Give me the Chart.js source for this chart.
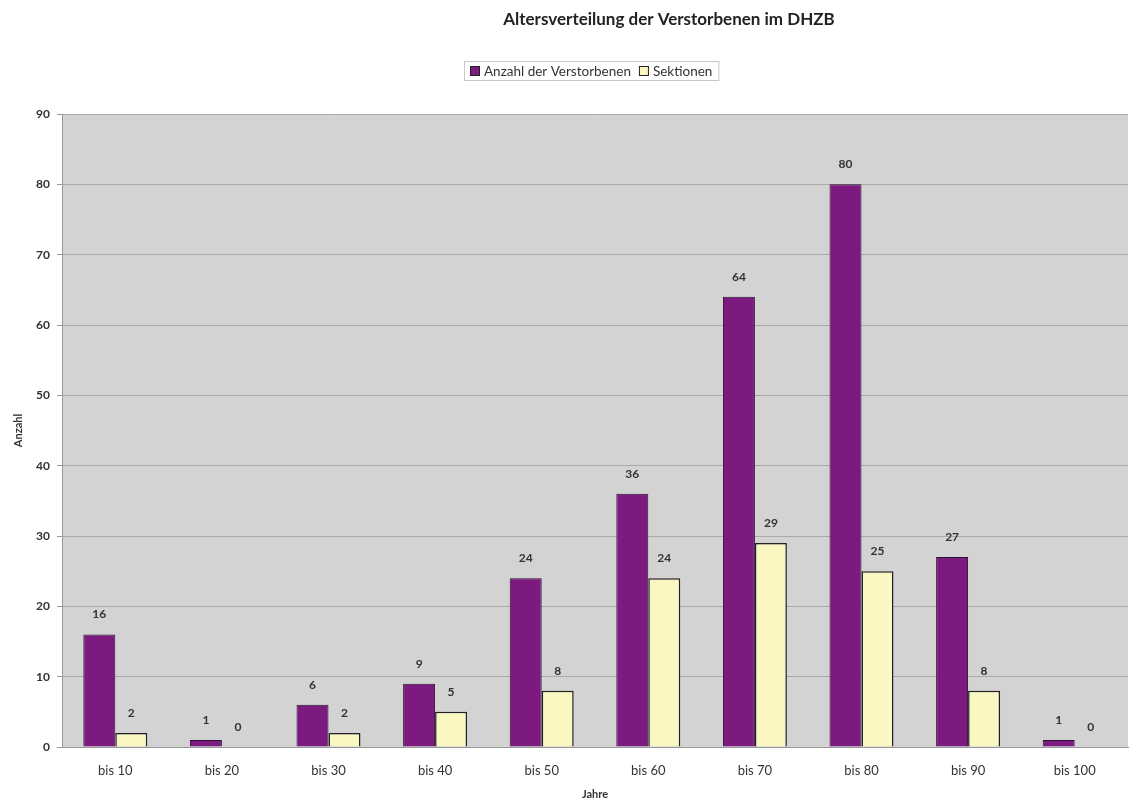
<!DOCTYPE html>
<html>
<head>
<meta charset="utf-8">
<script src="https://cdn.jsdelivr.net/npm/chart.js@4"></script>
<style>
  html, body { margin: 0; padding: 0; background: #fff; }
  #wrap { width: 1134px; height: 805px; position: relative; }
</style>
</head>
<body>
<div id="wrap"><canvas id="ageChart" width="1134" height="805"></canvas></div>
<script>
const labels = ['bis 10', 'bis 20', 'bis 30', 'bis 40', 'bis 50', 'bis 60', 'bis 70', 'bis 80', 'bis 90', 'bis 100'];
const verstorbene = [16, 1, 6, 9, 24, 36, 64, 80, 27, 1];
const sektionen = [2, 0, 2, 5, 8, 24, 29, 25, 8, 0];
const yTicks = [0, 10, 20, 30, 40, 50, 60, 70, 80, 90];

const FONT = 'Lato, "Open Sans", sans-serif';
const TEXT = '#333';

// grey plot area behind the bars
const plotBg = {
  id: 'plotBg',
  beforeDraw(chart) {
    const { ctx, chartArea: a } = chart;
    ctx.save();
    ctx.fillStyle = '#d3d3d3';
    ctx.fillRect(a.left, a.top, a.right - a.left, a.bottom - a.top);
    ctx.restore();
  }
};

// title, legend and the value above every bar
const extras = {
  id: 'extras',
  afterDatasetsDraw(chart) {
    const { ctx } = chart;
    ctx.save();
    ctx.fillStyle = TEXT;
    ctx.textAlign = 'center';
    ctx.textBaseline = 'middle';
    ctx.font = 'bold 12px ' + FONT;
    chart.data.datasets.forEach((ds, i) => {
      chart.getDatasetMeta(i).data.forEach((bar, j) => {
        ctx.fillText(String(ds.data[j]), bar.x, bar.y - 20);
      });
    });

    ctx.font = 'bold 17px ' + FONT;
    ctx.fillStyle = '#222';
    ctx.fillText('Altersverteilung der Verstorbenen im DHZB', 669, 20);

    // legend, centred over the plot
    ctx.font = '13.5px ' + FONT;
    ctx.textAlign = 'left';
    const items = chart.data.datasets;
    const box = 10, gap = 4, sep = 8;
    let total = 0;
    items.forEach((ds, i) => { total += box + gap + ctx.measureText(ds.label).width + (i ? 0 : sep); });
    const lw = total + 12, lh = 19, ly = 61;
    const lx = Math.round(591 - lw / 2);
    ctx.strokeStyle = '#c8c8c8';
    ctx.lineWidth = 1;
    ctx.strokeRect(lx + 0.5, ly + 0.5, lw, lh);
    let x = lx + 6;
    items.forEach(ds => {
      ctx.fillStyle = ds.backgroundColor;
      ctx.fillRect(x, ly + 5, box, box);
      ctx.strokeStyle = '#222';
      ctx.strokeRect(x + 0.5, ly + 5.5, box - 1, box - 1);
      ctx.fillStyle = TEXT;
      ctx.fillText(ds.label, x + box + gap, ly + 10.5);
      x += box + gap + ctx.measureText(ds.label).width + sep;
    });
    ctx.restore();
  }
};

new Chart(document.getElementById('ageChart'), {
  type: 'bar',
  data: {
    labels,
    datasets: [
      {
        label: 'Anzahl der Verstorbenen',
        data: verstorbene,
        backgroundColor: '#7d1a80',
        borderColor: '#2a1030',
        borderWidth: 1
      },
      {
        label: 'Sektionen',
        data: sektionen,
        backgroundColor: '#fbf7c3',
        borderColor: '#222',
        borderWidth: 1.5
      }
    ]
  },
  options: {
    responsive: false,
    animation: false,
    layout: { padding: { top: 114, right: 6, left: 12, bottom: 0 } },
    datasets: { bar: { categoryPercentage: 0.6, barPercentage: 1.0 } },
    plugins: {
      legend: { display: false },
      title: { display: false },
      tooltip: { enabled: false }
    },
    scales: {
      x: {
        grid: { display: false, drawTicks: false },
        border: { color: '#999', width: 1 },
        ticks: { color: TEXT, font: { family: FONT, size: 13 }, padding: 16 },
        title: { display: true, text: 'Jahre', color: TEXT, font: { family: FONT, size: 11, weight: 'bold' }, padding: { top: 6 } },
        afterFit(s) { s.height = 58; }
      },
      y: {
        min: 0,
        max: 90,
        afterBuildTicks(s) { s.ticks = yTicks.map(v => ({ value: v })); },
        grid: { color: '#aaa', lineWidth: 1, tickLength: 5, tickColor: '#999' },
        border: { color: '#999', width: 1 },
        ticks: { color: TEXT, font: { family: FONT, size: 12, weight: 'bold' }, padding: 7 },
        title: { display: true, text: 'Anzahl', color: TEXT, font: { family: FONT, size: 11, weight: 'bold' }, padding: 0 },
        afterFit(s) { s.width = 50; }
      }
    }
  },
  plugins: [plotBg, extras]
});
</script>
</body>
</html>
